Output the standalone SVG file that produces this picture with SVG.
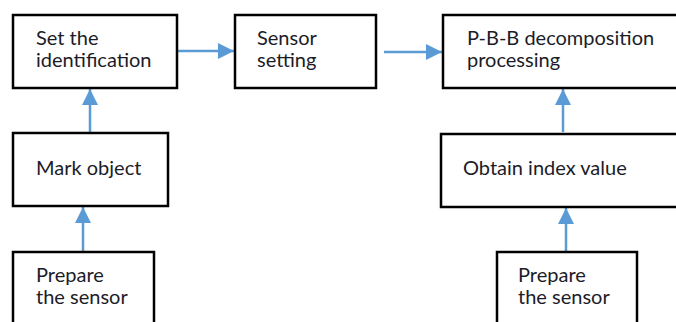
<svg xmlns="http://www.w3.org/2000/svg" width="676" height="322" viewBox="0 0 676 322">
<defs>
<style>
.box{fill:#fff;stroke:#000;stroke-width:2.5}
.t{font-family:Lato,"Open Sans",sans-serif;font-size:20px;fill:#1c1c28}
.c{stroke:#5b9bd5;stroke-width:2.5;fill:none;marker-end:url(#ah)}
</style>
<marker id="ah" markerUnits="userSpaceOnUse" markerWidth="16" markerHeight="16" refX="16" refY="8" orient="auto" viewBox="0 0 16 16">
<path d="M0,0 L16,8 L0,16 Z" fill="#5b9bd5"/>
</marker>
</defs>
<rect width="676" height="322" fill="#fff"/>
<g id="connectors">
<line class="c" x1="178" y1="51" x2="234" y2="51"/>
<line class="c" x1="384" y1="52" x2="442" y2="52"/>
<line class="c" x1="90" y1="132" x2="90" y2="89"/>
<line class="c" x1="83" y1="251" x2="83" y2="207"/>
<line class="c" x1="563" y1="132" x2="563" y2="89"/>
<line class="c" x1="566" y1="251" x2="566" y2="208"/>
</g>
<g id="set-identification">
<rect class="box" x="13" y="15" width="164" height="73"/>
<text class="t" x="36" y="45">Set the</text>
<text class="t" x="36" y="67">identification</text>
</g>
<g id="sensor-setting">
<rect class="box" x="235" y="15" width="141" height="73"/>
<text class="t" x="257" y="45">Sensor</text>
<text class="t" x="257" y="67">setting</text>
</g>
<g id="pbb">
<rect class="box" x="443" y="15" width="250" height="73"/>
<text class="t" x="467" y="45">P-B-B decomposition</text>
<text class="t" x="467" y="67">processing</text>
</g>
<g id="mark-object">
<rect class="box" x="13" y="133" width="155" height="73"/>
<text class="t" x="36" y="175">Mark object</text>
</g>
<g id="obtain-index">
<rect class="box" x="441" y="134" width="250" height="73"/>
<text class="t" x="463" y="175">Obtain index value</text>
</g>
<g id="prepare-left">
<rect class="box" x="13" y="252" width="141" height="90"/>
<text class="t" x="36" y="282">Prepare</text>
<text class="t" x="36" y="304">the sensor</text>
</g>
<g id="prepare-right">
<rect class="box" x="497" y="252" width="140" height="90"/>
<text class="t" x="518" y="282">Prepare</text>
<text class="t" x="518" y="304">the sensor</text>
</g>
</svg>
